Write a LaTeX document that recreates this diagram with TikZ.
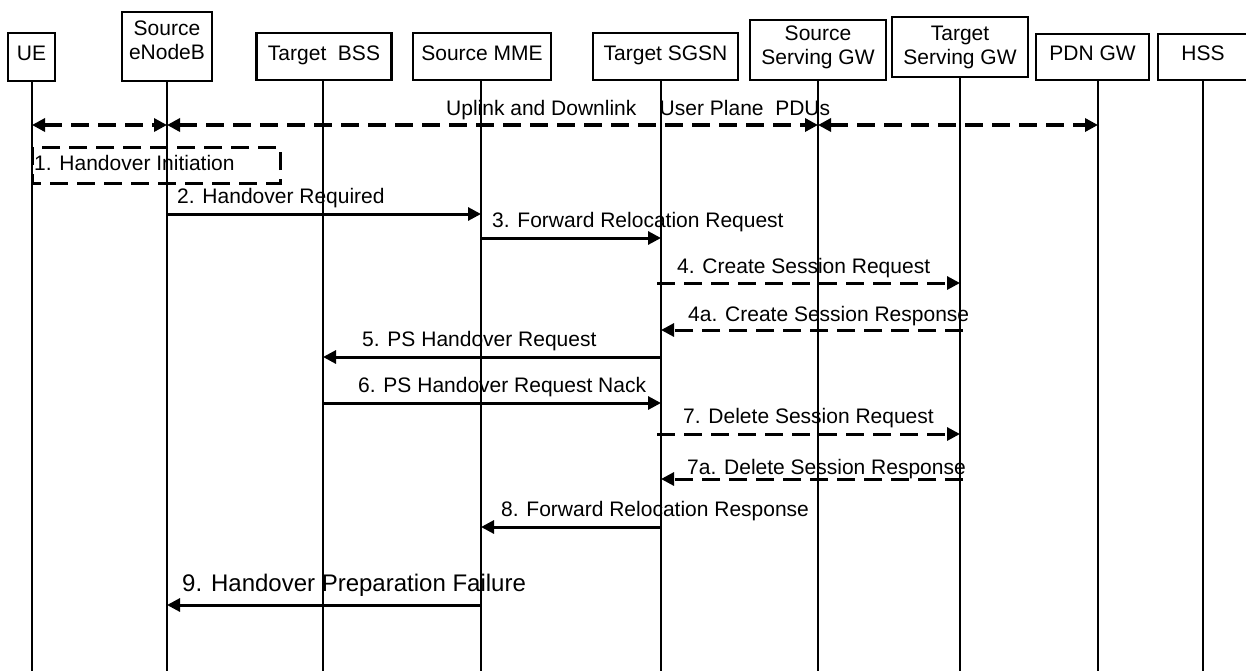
\documentclass[tikz,border=0pt]{standalone}
\usepackage{fontspec}
\setmainfont{Liberation Sans}
\usetikzlibrary{arrows.meta}
\begin{document}
\begin{tikzpicture}[x=1pt,y=-1pt,
  ent/.style={draw, line width=2.6pt, inner sep=0pt, align=center,
    font=\fontsize{21}{25}\selectfont, text height=15pt, text depth=8pt},
  entbox/.style={draw, line width=2.6pt, inner sep=0pt},
  enttxt/.style={inner sep=0pt, align=center, anchor=north,
    font=\fontsize{21}{24.5}\selectfont},
  life/.style={line width=2pt},
  lbl/.style={inner sep=0pt, anchor=base west, font=\fontsize{21}{25}\selectfont},
  tip/.style={-{Triangle[length=13pt,width=13pt]}},
  msg/.style={line width=3pt, tip},
  dmsg/.style={msg, dash pattern=on 18pt off 9pt},
  dbl/.style={line width=3.5pt, dash pattern=on 18pt off 9pt,
    {Triangle[length=13pt,width=13pt]}-{Triangle[length=13pt,width=13pt]}},
  initbox/.style={line width=3pt, dash pattern=on 18pt off 9pt}
]
\useasboundingbox (0,0) rectangle (1246,670);

% entities
\node[ent,    minimum width=47pt,  minimum height=48pt] (ue)   at (31.5,57)  {UE};
\node[entbox, minimum width=90pt,  minimum height=69pt] (enb)  at (167,46.5) {};
\node[enttxt] (enbt) at (167,20.5) {Source\\eNodeB};
\node[ent,    minimum width=135pt, minimum height=47pt] (bss)  at (324,56.5) {Target\ \ BSS};
\node[ent,    minimum width=138pt, minimum height=47pt] (mme)  at (482,56.5) {Source MME};
\node[ent,    minimum width=145pt, minimum height=47pt] (sgsn) at (665.5,56.5) {Target SGSN};
\node[entbox, minimum width=136pt, minimum height=60pt] (ssgw) at (818,50)   {};
\node[enttxt] (ssgwt) at (818,25.5) {Source\\Serving GW};
\node[entbox, minimum width=136pt, minimum height=60pt] (tsgw) at (960,47)   {};
\node[enttxt] (tsgwt) at (960,25.5) {Target\\Serving GW};
\node[ent,    minimum width=113pt, minimum height=46pt] (pdn)  at (1092.5,57) {PDN GW};
\node[ent,    minimum width=90pt,  minimum height=46pt] (hss)  at (1203,57)  {HSS};

% lifeline bottoms
\coordinate (ueB)   at (32,672);
\coordinate (enbB)  at (167,672);
\coordinate (bssB)  at (323,672);
\coordinate (mmeB)  at (481,672);
\coordinate (sgsnB) at (661,672);
\coordinate (ssgwB) at (818,672);
\coordinate (tsgwB) at (960,672);
\coordinate (pdnB)  at (1098,672);
\coordinate (hssB)  at (1203,672);

% labels
\node[lbl] (lup) at (446,115) {Uplink and Downlink\ \ \ \ User Plane\ \ PDUs};
\node[lbl] (l1)  at (34,170)  {1. Handover Initiation};
\node[lbl] (l2)  at (177,203) {2. Handover Required};
\node[lbl] (l3)  at (492,227) {3. Forward Relocation Request};
\node[lbl] (l4)  at (677,273) {4. Create Session Request};
\node[lbl] (l4a) at (688,321) {4a. Create Session Response};
\node[lbl] (l5)  at (362,346) {5. PS Handover Request};
\node[lbl] (l6)  at (358,392) {6. PS Handover Request Nack};
\node[lbl] (l7)  at (683,423) {7. Delete Session Request};
\node[lbl] (l7a) at (687,474) {7a. Delete Session Response};
\node[lbl] (l8)  at (501,516) {8. Forward Relocation Response};
\node[lbl, font=\fontsize{24}{28}\selectfont] (l9) at (182,591) {9. Handover Preparation Failure};

% lifelines
\foreach \n in {ue,enb,bss,mme,sgsn,ssgw,tsgw,pdn,hss}
  \draw[life] (\n B |- \n.south) -- (\n B);

% user plane
\draw[dbl] (ueB |- 0,125) -- (enbB |- 0,125);
\draw[dbl] (enbB |- 0,125) -- (ssgwB |- 0,125);
\draw[dbl] (ssgwB |- 0,125) -- (pdnB |- 0,125);

% handover initiation box
\coordinate (initR) at (280,183);
\draw[initbox] (ueB |- 0,147) rectangle (initR);

% messages
\draw[msg]  (enbB |- 0,214) -- (mmeB |- 0,214);
\draw[msg]  (mmeB |- 0,238) -- (sgsnB |- 0,238);
\draw[dmsg] ([xshift=-4pt]sgsnB |- 0,283) -- (tsgwB |- 0,283);
\draw[dmsg] ([xshift=3pt]tsgwB |- 0,330) -- (sgsnB |- 0,330);
\draw[msg]  (sgsnB |- 0,357) -- (bssB |- 0,357);
\draw[msg]  (bssB |- 0,403) -- (sgsnB |- 0,403);
\draw[dmsg] ([xshift=-4pt]sgsnB |- 0,434) -- (tsgwB |- 0,434);
\draw[dmsg] ([xshift=3pt]tsgwB |- 0,479) -- (sgsnB |- 0,479);
\draw[msg]  (sgsnB |- 0,527) -- (mmeB |- 0,527);
\draw[msg]  (mmeB |- 0,605) -- (enbB |- 0,605);
\end{tikzpicture}
\end{document}
